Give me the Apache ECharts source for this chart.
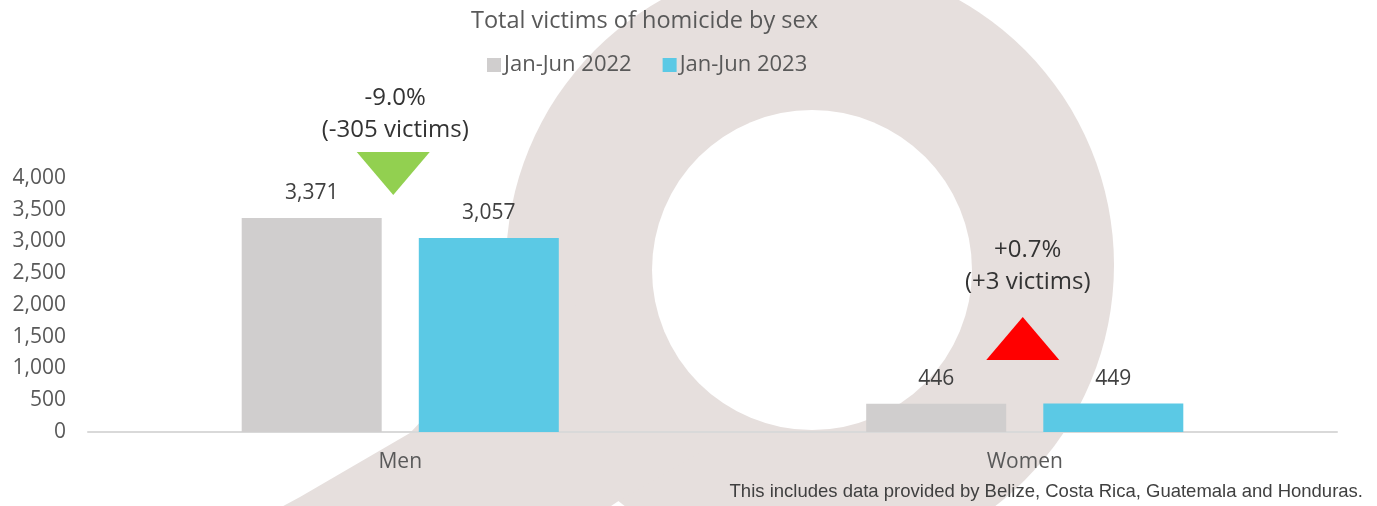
<!DOCTYPE html>
<html>
<head>
<meta charset="utf-8">
<script src="https://cdn.jsdelivr.net/npm/echarts@6/dist/echarts.min.js"></script>
<style>
  html, body { margin: 0; padding: 0; background: #ffffff; }
  #chart { width: 1377px; height: 506px; }
</style>
</head>
<body>
<div id="chart"></div>
<script>
// ---- data ----
const categories = ['Men', 'Women'];
const seriesNames = ['Jan-Jun 2022', 'Jan-Jun 2023'];
const values2022 = [3371, 446];
const values2023 = [3057, 449];
const yAxisMin = 0;
const yAxisMax = 4000;
const yAxisInterval = 500;
const changePercent = ['-9.0%', '+0.7%'];
const changeVictims = ['(-305 victims)', '(+3 victims)'];
const changeDirection = ['down', 'up'];
const titleText = 'Total victims of homicide by sex';
const footnoteText = 'This includes data provided by Belize, Costa Rica, Guatemala and Honduras.';

// ---- styles ----
const FONT = '"Open Sans", "Noto Sans", sans-serif';
const colors = ['#D0CECE', '#5BC9E5'];
const ringColor = '#E6DFDD';

const chart = echarts.init(document.getElementById('chart'), null, { renderer: 'canvas' });

const option = {
  animation: false,
  backgroundColor: '#ffffff',
  title: {
    text: titleText,
    left: 466,
    top: 4,
    textStyle: { fontFamily: FONT, fontSize: 23.5, fontWeight: 'normal', color: '#595959' }
  },
  legend: {
    data: seriesNames,
    top: 49,
    left: 482,
    itemWidth: 14,
    itemHeight: 14,
    itemGap: 31,
    icon: 'rect',
    textStyle: { fontFamily: FONT, fontSize: 22, color: '#595959', padding: [0, 0, 0, -2] }
  },
  grid: { left: 88, right: 40, top: 178, bottom: 74, containLabel: false, outerBoundsMode: 'none' },
  xAxis: {
    type: 'category',
    data: categories,
    axisLine: { lineStyle: { color: '#D9D9D9', width: 2 } },
    axisTick: { show: false },
    axisLabel: { fontFamily: FONT, fontSize: 21, color: '#595959', margin: 20 }
  },
  yAxis: {
    type: 'value',
    min: yAxisMin,
    max: yAxisMax,
    interval: yAxisInterval,
    axisLine: { show: false },
    axisTick: { show: false },
    splitLine: { show: false },
    axisLabel: {
      fontFamily: FONT, fontSize: 21, color: '#595959', margin: 22,
      formatter: v => v.toLocaleString('en-US')
    }
  },
  series: [
    {
      name: seriesNames[0], type: 'bar', data: values2022,
      barWidth: 140, barGap: '26.5%',
      itemStyle: { color: colors[0] },
      label: {
        show: true, position: 'top', distance: 14,
        fontFamily: FONT, fontSize: 21, color: '#404040',
        formatter: p => p.value.toLocaleString('en-US')
      }
    },
    {
      name: seriesNames[1], type: 'bar', data: values2023,
      barWidth: 140, barGap: '26.5%',
      itemStyle: { color: colors[1] },
      label: {
        show: true, position: 'top', distance: 14,
        fontFamily: FONT, fontSize: 21, color: '#404040',
        formatter: p => p.value.toLocaleString('en-US')
      }
    }
  ]
};

chart.setOption(option);

// ---- annotations positioned from the category axis ----
const annotLayout = [
  { dx: -5, textY: 114, triTop: 152, triBottom: 195, triDx: -7 },
  { dx: 3, textY: 266, triTop: 317, triBottom: 360, triDx: -2 }
];
const graphics = [
  // background watermark (decorative pin)
  { type: 'circle', silent: true, z: -20, shape: { cx: 810, cy: 265, r: 304 }, style: { fill: ringColor } },
  { type: 'polygon', silent: true, z: -20,
    shape: { points: [[514, 233], [500, 290], [487, 333], [457, 383], [410, 433], [300, 497], [220, 540], [560, 540], [620, 500], [700, 452]] },
    style: { fill: ringColor } },
  { type: 'circle', silent: true, z: -19, shape: { cx: 812, cy: 270, r: 160 }, style: { fill: '#ffffff' } },
  // footnote
  {
    type: 'text', z: 10, right: 14, top: 482,
    style: { text: footnoteText, fontFamily: '"Liberation Sans", Arial, sans-serif', fontSize: 18.5, fill: '#404040' }
  }
];
categories.forEach((c, i) => {
  const cx = chart.convertToPixel({ xAxisIndex: 0 }, c);
  const L = annotLayout[i];
  graphics.push({
    type: 'text', z: 10,
    x: cx + L.dx, y: L.textY,
    style: {
      text: changePercent[i] + '\n' + changeVictims[i],
      fontFamily: FONT, fontSize: 24, lineHeight: 32, fill: '#333333',
      align: 'center', verticalAlign: 'middle'
    }
  });
  const tx = cx + L.triDx;
  const half = 36.5;
  const pts = changeDirection[i] === 'down'
    ? [[tx - half, L.triTop], [tx + half, L.triTop], [tx, L.triBottom]]
    : [[tx, L.triTop], [tx + half, L.triBottom], [tx - half, L.triBottom]];
  graphics.push({
    type: 'polygon', z: 10,
    shape: { points: pts },
    style: { fill: changeDirection[i] === 'down' ? '#92D050' : '#FF0000' }
  });
});
chart.setOption({ graphic: graphics });
</script>
</body>
</html>
